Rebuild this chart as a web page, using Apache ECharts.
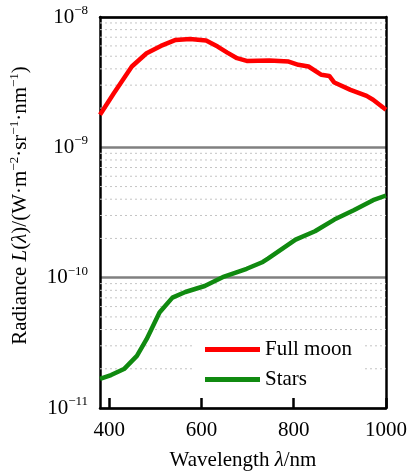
<!DOCTYPE html>
<html>
<head>
<meta charset="utf-8">
<script src="https://cdn.jsdelivr.net/npm/echarts@6/dist/echarts.min.js"></script>
<style>
  html, body { margin: 0; padding: 0; background: #fff; }
  #chart { width: 410px; height: 476px; }
</style>
</head>
<body>
<div id="chart"></div>
<script>
// values: [wavelength nm, radiance W/(m2 sr nm)]
const moonWl = [380, 410, 449, 481, 512, 544, 575, 610, 635, 656, 677, 698, 747, 789, 810, 832, 860, 877, 888, 923, 958, 972, 1000]
const moonVal = [1.78e-9, 2.6e-9, 4.17e-9, 5.27e-9, 6.0e-9, 6.67e-9, 6.79e-9, 6.59e-9, 5.93e-9, 5.33e-9, 4.83e-9, 4.6e-9,
  4.64e-9, 4.55e-9, 4.3e-9, 4.17e-9, 3.6e-9, 3.53e-9, 3.14e-9, 2.76e-9, 2.48e-9, 2.32e-9, 1.94e-9]
const starWl = [380, 404, 432, 460, 481, 509, 537, 565, 607, 649, 698, 733, 744, 804, 846, 888, 930, 972, 1000]
const starVal = [1.67e-11, 1.79e-11, 1.99e-11, 2.51e-11, 3.37e-11, 5.4e-11, 7.03e-11, 7.76e-11, 8.63e-11, 1.02e-10,
  1.17e-10, 1.32e-10, 1.4e-10, 1.96e-10, 2.27e-10, 2.79e-10, 3.29e-10, 3.93e-10, 4.27e-10]
const xTicks = [400, 600, 800, 1000]
const seriesNames = ['Full moon', 'Stars']

const font = 'Liberation Serif'
const xMin = 380, xMax = 1000

// minor grid lines at 2..9 x 10^n, drawn as broken line segments across the plot
let minorData = []
for (let e = -11; e < -8; e++) {
  for (let k = 2; k <= 9; k++) {
    let v = k * Math.pow(10, e)
    minorData.push([xMin, v], [xMax, v], '-')
  }
}

const chart = echarts.init(document.getElementById('chart'))
let option = {
  animation: false,
  grid: { left: 96, right: 20, top: 17, bottom: 67 },
  legend: {
    orient: 'vertical',
    left: 195, top: 335,
    padding: [4, 10, 4, 10],
    backgroundColor: '#fff',
    itemWidth: 55, itemHeight: 5, itemGap: 9,
    icon: 'rect',
    data: seriesNames,
    textStyle: { fontFamily: font, fontSize: 21, color: '#000' }
  },
  xAxis: [
    {
      type: 'value',
      min: xMin, max: xMax,
      name: 'Wavelength {i|λ}/nm',
      nameLocation: 'middle',
      nameGap: 42,
      nameTextStyle: {
        fontFamily: font, fontSize: 21, color: '#000',
        rich: { i: { fontFamily: font, fontSize: 21, fontStyle: 'italic', color: '#000' } }
      },
      axisLine: { show: true, lineStyle: { color: '#000', width: 2.5 } },
      axisTick: { show: true, inside: true, length: 10, customValues: xTicks, lineStyle: { color: '#000', width: 2.5 } },
      axisLabel: {
        customValues: xTicks, fontFamily: font, fontSize: 21, color: '#000', margin: 12,
        formatter: v => String(v)
      },
      splitLine: { show: false }
    },
    {
      type: 'value', position: 'top',
      min: xMin, max: xMax,
      axisLine: { show: true, onZero: false, lineStyle: { color: '#000', width: 2.5 } },
      axisTick: { show: false }, axisLabel: { show: false }, splitLine: { show: false }
    }
  ],
  yAxis: [
    {
      type: 'log',
      logBase: 10,
      min: 1e-11, max: 1e-8,
      name: 'Radiance {i|L}({i|λ})/(W·m{s|−2}·sr{s|−1}·nm{s|−1})',
      nameLocation: 'middle',
      nameGap: 68,
      nameTextStyle: {
        fontFamily: font, fontSize: 21, color: '#000', padding: [0, 0, 0, 14],
        rich: {
          i: { fontFamily: font, fontSize: 21, fontStyle: 'italic', color: '#000', lineHeight: 24 },
          s: { fontFamily: font, fontSize: 13, color: '#000', verticalAlign: 'top', lineHeight: 24 }
        }
      },
      axisLine: { show: true, lineStyle: { color: '#000', width: 2.5 } },
      axisTick: { show: false },
      axisLabel: {
        margin: 12,
        formatter: function (v) {
          let e = Math.round(Math.log10(v))
          return '{b|10}{s|−' + (-e) + '}'
        },
        rich: {
          b: { fontFamily: font, fontSize: 21, color: '#000', lineHeight: 26 },
          s: { fontFamily: font, fontSize: 13, color: '#000', verticalAlign: 'top', lineHeight: 26 }
        }
      },
      splitLine: { show: true, lineStyle: { color: '#808080', width: 2.5 } },
      minorTick: { show: false },
      minorSplitLine: { show: false }
    },
    {
      type: 'log', position: 'right',
      logBase: 10,
      min: 1e-11, max: 1e-8,
      axisLine: { show: true, lineStyle: { color: '#000', width: 2.5 } },
      axisTick: { show: false }, axisLabel: { show: false }, splitLine: { show: false }
    }
  ],
  series: [
    {
      name: 'minor',
      type: 'line',
      data: minorData,
      symbol: 'none',
      silent: true,
      connectNulls: false,
      z: 1,
      lineStyle: { color: '#c4c4c4', width: 1, type: [2, 3] },
      tooltip: { show: false }
    },
    {
      name: seriesNames[0],
      type: 'line',
      data: moonWl.map((w, i) => [w, moonVal[i]]),
      symbol: 'none',
      z: 3,
      lineStyle: { color: '#ff0000', width: 4.5 },
      itemStyle: { color: '#ff0000' }
    },
    {
      name: seriesNames[1],
      type: 'line',
      data: starWl.map((w, i) => [w, starVal[i]]),
      symbol: 'none',
      z: 3,
      lineStyle: { color: '#108a10', width: 4.5 },
      itemStyle: { color: '#108a10' }
    }
  ]
}
chart.setOption(option)
</script>
</body>
</html>
